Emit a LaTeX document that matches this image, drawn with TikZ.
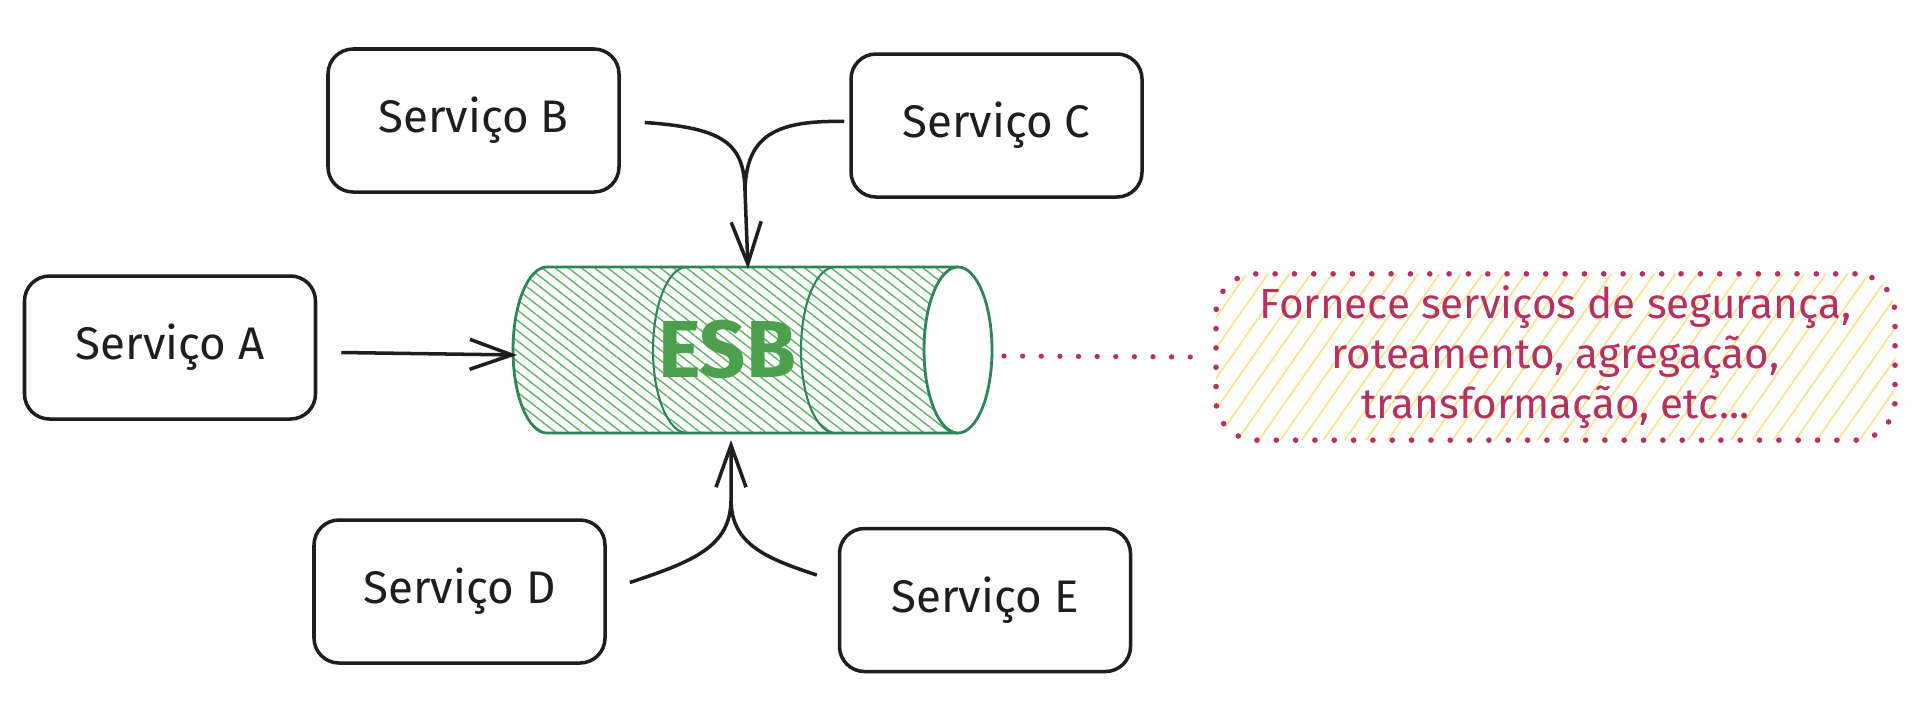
\documentclass[tikz,border=0pt]{standalone}
\usepackage{fontspec}
\setmainfont{Fira Sans}
\usetikzlibrary{arrows.meta,patterns.meta}

\definecolor{ink}{HTML}{1E1E1E}
\definecolor{esbline}{HTML}{2F855A}
\definecolor{esbhatch}{HTML}{5CB85F}
\definecolor{esbtext}{HTML}{4C9F4C}
\definecolor{crimson}{HTML}{B8305E}
\definecolor{notehatch}{HTML}{FFE38A}

\tikzset{
	svc/.style={draw=ink, line width=1pt, rounded corners=0.25cm, minimum width=2.91cm, minimum height=1.43cm, text=ink, font=\fontsize{13}{15}\selectfont},
	flow/.style={draw=ink, line width=1pt, -{Straight Barb[length=0.42cm, width=0.3cm]}},
	joinline/.style={draw=ink, line width=1pt},
	remark/.style={draw=crimson, line width=1.6pt, line cap=round, dash pattern=on 0pt off 5.5pt, rounded corners=0.4cm, minimum width=6.79cm, minimum height=1.66cm, text=crimson, align=center, font=\fontsize{12}{14.2}\selectfont,
		preaction={solid, pattern={Lines[angle=55, distance=5pt, line width=0.5pt]}, pattern color=notehatch}},
	dotline/.style={draw=crimson, line width=1.5pt, line cap=round, dash pattern=on 0pt off 5.3pt}
}

\begin{document}
\begin{tikzpicture}

	\fill[white] (0,0) rectangle (19.32,7.06);
	\useasboundingbox (0,0) rectangle (19.32,7.06);

	% services
	\node[svc] (svcA) at (1.70, 3.585) {Serviço A};
	\node[svc] (svcB) at (4.735, 5.855) {Serviço B};
	\node[svc] (svcC) at (9.965, 5.805) {Serviço C};
	\node[svc] (svcD) at (4.595, 1.145) {Serviço D};
	\node[svc] (svcE) at (9.85, 1.06) {Serviço E};

	% ESB cylinder
	\fill[pattern={Lines[angle=-38, distance=2.3pt, line width=0.4pt]}, pattern color=esbhatch]
		(5.47,4.39) arc[start angle=90, end angle=270, x radius=0.34, y radius=0.83]
		-- (9.58,2.73) arc[start angle=-90, end angle=90, x radius=0.34, y radius=0.83] -- cycle;
	\draw[esbline, line width=0.8pt] (9.58,4.39) -- (5.47,4.39)
		arc[start angle=90, end angle=270, x radius=0.34, y radius=0.83] -- (9.58,2.73);
	\draw[esbline, line width=0.6pt] (6.87,4.39) arc[start angle=90, end angle=270, x radius=0.34, y radius=0.83];
	\draw[esbline, line width=0.6pt] (8.35,4.39) arc[start angle=90, end angle=270, x radius=0.34, y radius=0.83];
	\draw[esbline, line width=0.8pt, fill=white] (9.58,3.56) ellipse [x radius=0.34, y radius=0.83];
	\node[text=esbtext, font=\fontsize{23}{26}\selectfont\bfseries] (esb) at (7.27, 3.57) {ESB};

	\coordinate (esbW) at (5.17, 3.51);
	\coordinate (esbN) at (7.48, 4.37);
	\coordinate (esbS) at (7.31, 2.66);
	\coordinate (esbE) at (10.04, 3.50);

	% note
	\node[remark] (note) at (15.555, 3.49) {Fornece serviços de segurança,\\roteamento, agregação,\\transformação, etc...};

	% connectors
	\draw[flow] ([xshift=0.24cm, yshift=-0.05cm]svcA.east) -- (esbW);
	\draw[flow] ([xshift=0.24cm, yshift=-0.02cm]svcB.east) .. controls (7.25,5.78) and (7.44,5.62) .. (7.45,5.15) -- (esbN);
	\draw[joinline] ([xshift=-0.05cm, yshift=0.04cm]svcC.west) .. controls (7.75,5.86) and (7.46,5.7) .. (7.45,5.15);
	\draw[flow] ([xshift=0.23cm, yshift=0.09cm]svcD.east) .. controls (6.95,1.45) and (7.3,1.6) .. (7.31,2.05) -- (esbS);
	\draw[joinline] ([xshift=-0.21cm, yshift=0.25cm]svcE.west) .. controls (7.65,1.48) and (7.32,1.62) .. (7.31,2.05);
	\draw[dotline] (esbE) -- ([xshift=-0.09cm]note.west);

\end{tikzpicture}
\end{document}
